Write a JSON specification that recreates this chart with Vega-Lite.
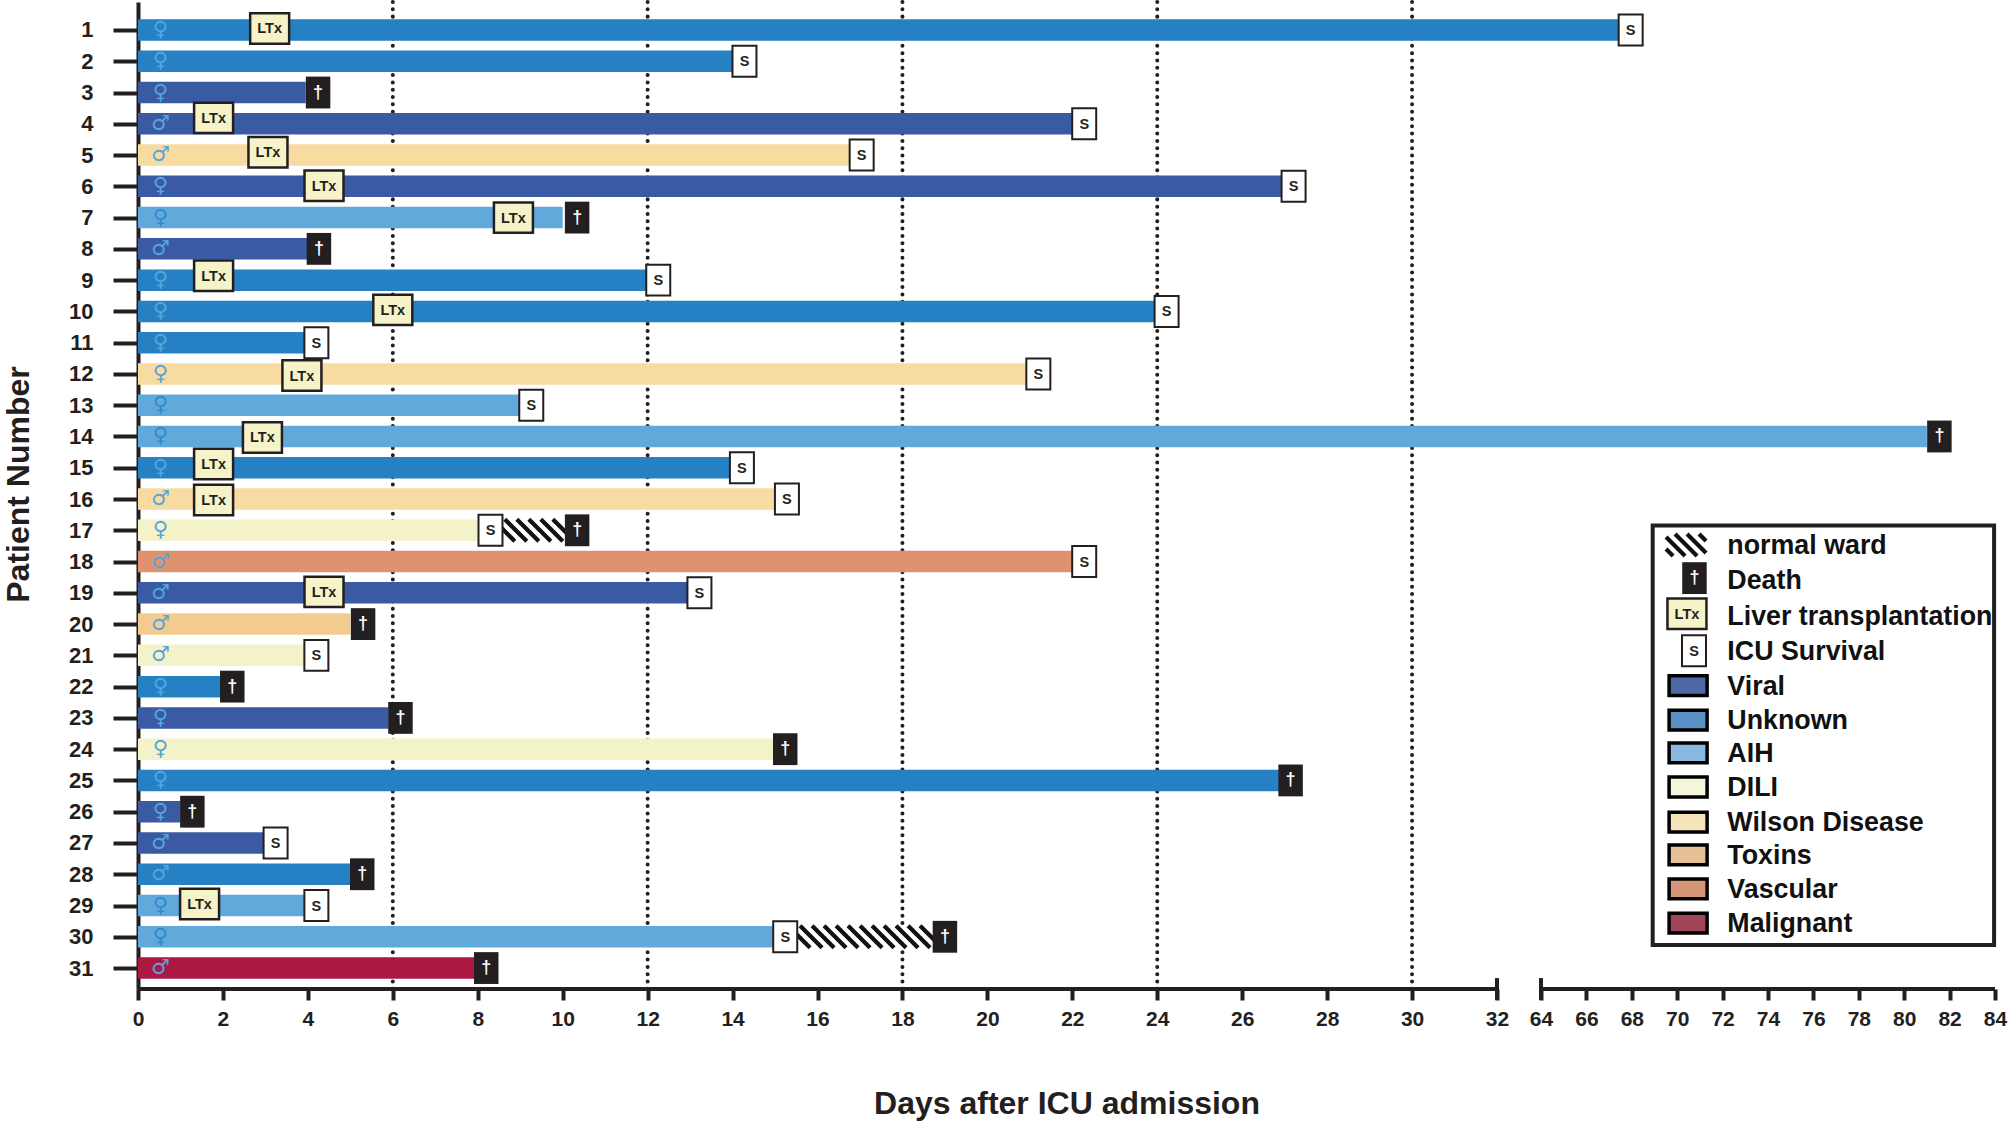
{
  "$schema": "https://vega.github.io/schema/vega-lite/v6.json",
  "width": 1857,
  "height": 987,
  "autosize": {"type": "none"},
  "padding": {"left": 138, "top": 2, "right": 13, "bottom": 138},
  "background": "white",
  "config": {
    "view": {"stroke": null},
    "font": "Liberation Sans",
    "axis": {
      "grid": false,
      "domainColor": "#231f20",
      "domainWidth": 4,
      "tickColor": "#231f20",
      "tickWidth": 4,
      "labelColor": "#231f20",
      "labelFont": "Liberation Sans",
      "labelFontWeight": "bold",
      "titleColor": "#231f20",
      "titleFont": "Liberation Sans",
      "titleFontWeight": "bold",
      "zindex": 1
    }
  },
  "datasets": {
    "patients": [
      {"patient": 1, "start": 0, "end": 67.5, "etiology": "Unknown", "sex": "♀", "sexDay": 0.53},
      {"patient": 2, "start": 0, "end": 14, "etiology": "Unknown", "sex": "♀", "sexDay": 0.53},
      {"patient": 3, "start": 0, "end": 3.95, "etiology": "Viral", "sex": "♀", "sexDay": 0.53},
      {"patient": 4, "start": 0, "end": 22, "etiology": "Viral", "sex": "♂", "sexDay": 0.53},
      {"patient": 5, "start": 0, "end": 16.75, "etiology": "Wilson Disease", "sex": "♂", "sexDay": 0.53},
      {"patient": 6, "start": 0, "end": 26.95, "etiology": "Viral", "sex": "♀", "sexDay": 0.53},
      {"patient": 7, "start": 0, "end": 10, "etiology": "AIH", "sex": "♀", "sexDay": 0.53},
      {"patient": 8, "start": 0, "end": 4, "etiology": "Viral", "sex": "♂", "sexDay": 0.53},
      {"patient": 9, "start": 0, "end": 12, "etiology": "Unknown", "sex": "♀", "sexDay": 0.53},
      {"patient": 10, "start": 0, "end": 24, "etiology": "Unknown", "sex": "♀", "sexDay": 0.53},
      {"patient": 11, "start": 0, "end": 4, "etiology": "Unknown", "sex": "♀", "sexDay": 0.53},
      {"patient": 12, "start": 0, "end": 20.97, "etiology": "Wilson Disease", "sex": "♀", "sexDay": 0.53},
      {"patient": 13, "start": 0, "end": 9, "etiology": "AIH", "sex": "♀", "sexDay": 0.53},
      {"patient": 14, "start": 0, "end": 81, "etiology": "AIH", "sex": "♀", "sexDay": 0.53},
      {"patient": 15, "start": 0, "end": 14, "etiology": "Unknown", "sex": "♀", "sexDay": 0.53},
      {"patient": 16, "start": 0, "end": 15, "etiology": "Wilson Disease", "sex": "♂", "sexDay": 0.53},
      {"patient": 17, "start": 0, "end": 8, "etiology": "DILI", "sex": "♀", "sexDay": 0.53},
      {"patient": 18, "start": 0, "end": 22, "etiology": "Vascular", "sex": "♂", "sexDay": 0.53},
      {"patient": 19, "start": 0, "end": 13, "etiology": "Viral", "sex": "♂", "sexDay": 0.53},
      {"patient": 20, "start": 0, "end": 5, "etiology": "Toxins", "sex": "♂", "sexDay": 0.53},
      {"patient": 21, "start": 0, "end": 4, "etiology": "DILI", "sex": "♂", "sexDay": 0.53},
      {"patient": 22, "start": 0, "end": 2, "etiology": "Unknown", "sex": "♀", "sexDay": 0.53},
      {"patient": 23, "start": 0, "end": 5.9, "etiology": "Viral", "sex": "♀", "sexDay": 0.53},
      {"patient": 24, "start": 0, "end": 15, "etiology": "DILI", "sex": "♀", "sexDay": 0.53},
      {"patient": 25, "start": 0, "end": 26.9, "etiology": "Unknown", "sex": "♀", "sexDay": 0.53},
      {"patient": 26, "start": 0, "end": 1, "etiology": "Viral", "sex": "♀", "sexDay": 0.53},
      {"patient": 27, "start": 0, "end": 3, "etiology": "Viral", "sex": "♂", "sexDay": 0.53},
      {"patient": 28, "start": 0, "end": 5, "etiology": "Unknown", "sex": "♂", "sexDay": 0.53},
      {"patient": 29, "start": 0, "end": 4, "etiology": "AIH", "sex": "♀", "sexDay": 0.53},
      {"patient": 30, "start": 0, "end": 15, "etiology": "AIH", "sex": "♀", "sexDay": 0.53},
      {"patient": 31, "start": 0, "end": 8, "etiology": "Malignant", "sex": "♂", "sexDay": 0.53}
    ],
    "events": [
      {"type": "LTx", "text": "LTx", "day": 3.1, "row": 0.95},
      {"type": "LTx", "text": "LTx", "day": 1.78, "row": 3.81},
      {"type": "LTx", "text": "LTx", "day": 3.06, "row": 4.91},
      {"type": "LTx", "text": "LTx", "day": 4.38, "row": 5.98},
      {"type": "LTx", "text": "LTx", "day": 8.84, "row": 7},
      {"type": "LTx", "text": "LTx", "day": 1.78, "row": 8.86},
      {"type": "LTx", "text": "LTx", "day": 6, "row": 9.95},
      {"type": "LTx", "text": "LTx", "day": 3.86, "row": 12.05},
      {"type": "LTx", "text": "LTx", "day": 2.93, "row": 14.03},
      {"type": "LTx", "text": "LTx", "day": 1.78, "row": 14.88},
      {"type": "LTx", "text": "LTx", "day": 1.78, "row": 16.03},
      {"type": "LTx", "text": "LTx", "day": 4.38, "row": 18.97},
      {"type": "LTx", "text": "LTx", "day": 1.45, "row": 28.95},
      {"type": "S", "text": "S", "day": 67.95, "row": 1},
      {"type": "S", "text": "S", "day": 14.28, "row": 2},
      {"type": "S", "text": "S", "day": 22.28, "row": 4},
      {"type": "S", "text": "S", "day": 17.04, "row": 5},
      {"type": "S", "text": "S", "day": 27.21, "row": 6},
      {"type": "S", "text": "S", "day": 12.25, "row": 9},
      {"type": "S", "text": "S", "day": 24.22, "row": 10},
      {"type": "S", "text": "S", "day": 4.2, "row": 11},
      {"type": "S", "text": "S", "day": 21.2, "row": 12},
      {"type": "S", "text": "S", "day": 9.26, "row": 13},
      {"type": "S", "text": "S", "day": 14.22, "row": 15},
      {"type": "S", "text": "S", "day": 15.28, "row": 16},
      {"type": "S", "text": "S", "day": 8.3, "row": 17},
      {"type": "S", "text": "S", "day": 22.28, "row": 18},
      {"type": "S", "text": "S", "day": 13.22, "row": 19},
      {"type": "S", "text": "S", "day": 4.2, "row": 21},
      {"type": "S", "text": "S", "day": 3.24, "row": 27},
      {"type": "S", "text": "S", "day": 4.2, "row": 29},
      {"type": "S", "text": "S", "day": 15.24, "row": 30},
      {"type": "Death", "text": "†", "day": 4.24, "row": 3},
      {"type": "Death", "text": "†", "day": 10.34, "row": 7},
      {"type": "Death", "text": "†", "day": 4.26, "row": 8},
      {"type": "Death", "text": "†", "day": 81.55, "row": 14},
      {"type": "Death", "text": "†", "day": 10.34, "row": 17},
      {"type": "Death", "text": "†", "day": 5.3, "row": 20},
      {"type": "Death", "text": "†", "day": 2.22, "row": 22},
      {"type": "Death", "text": "†", "day": 6.18, "row": 23},
      {"type": "Death", "text": "†", "day": 15.24, "row": 24},
      {"type": "Death", "text": "†", "day": 27.14, "row": 25},
      {"type": "Death", "text": "†", "day": 1.28, "row": 26},
      {"type": "Death", "text": "†", "day": 5.28, "row": 28},
      {"type": "Death", "text": "†", "day": 19, "row": 30},
      {"type": "Death", "text": "†", "day": 8.2, "row": 31},
      {"type": "Death", "text": "†", "day": 70.76, "row": 18.53},
      {"type": "LTx", "text": "LTx", "day": 70.43, "row": 19.67},
      {"type": "S", "text": "S", "day": 70.74, "row": 20.85}
    ],
    "wards": [
      {"kind": "short", "day": 9.32, "start": 8.6, "end": 10.05, "row": 17},
      {"kind": "long", "day": 17.12, "start": 15.5, "end": 18.75, "row": 30},
      {"kind": "key", "day": 70.39, "start": 69.5, "end": 71.3, "row": 17.47}
    ],
    "legendRows": [
      {"label": "normal ward", "row": 17.47, "day": 72.21},
      {"label": "Death", "row": 18.59, "day": 72.21},
      {"label": "Liver transplantation", "row": 19.74, "day": 72.21},
      {"label": "ICU Survival", "row": 20.85, "day": 72.21},
      {"label": "Viral", "row": 21.97, "day": 72.21, "swatch": "Viral", "keyDay": 70.48},
      {"label": "Unknown", "row": 23.07, "day": 72.21, "swatch": "Unknown", "keyDay": 70.48},
      {"label": "AIH", "row": 24.12, "day": 72.21, "swatch": "AIH", "keyDay": 70.48},
      {"label": "DILI", "row": 25.21, "day": 72.21, "swatch": "DILI", "keyDay": 70.48},
      {"label": "Wilson Disease", "row": 26.33, "day": 72.21, "swatch": "Wilson Disease", "keyDay": 70.48},
      {"label": "Toxins", "row": 27.38, "day": 72.21, "swatch": "Toxins", "keyDay": 70.48},
      {"label": "Vascular", "row": 28.47, "day": 72.21, "swatch": "Vascular", "keyDay": 70.48},
      {"label": "Malignant", "row": 29.56, "day": 72.21, "swatch": "Malignant", "keyDay": 70.48}
    ]
  },
  "encoding": {
    "y": {
      "field": "row",
      "type": "quantitative",
      "title": "Patient Number",
      "scale": {"domain": [0.105, 31.67], "reverse": true, "nice": false, "zero": false, "padding": 0},
      "axis": {
        "values": [1, 2, 3, 4, 5, 6, 7, 8, 9, 10, 11, 12, 13, 14, 15, 16, 17, 18, 19, 20, 21, 22, 23, 24, 25, 26, 27, 28, 29, 30, 31],
        "format": "d",
        "tickSize": 25,
        "labelFontSize": 22,
        "labelPadding": 20,
        "titleFontSize": 32,
        "titlePadding": 33,
        "titleY": 482
      }
    },
    "x": {
      "field": "day",
      "type": "quantitative",
      "title": "Days after ICU admission",
      "scale": {"domain": [0, 32, 64, 84], "range": [0, 1359, 1403, 1857], "nice": false, "zero": false, "padding": 0},
      "axis": {
        "values": [0, 2, 4, 6, 8, 10, 12, 14, 16, 18, 20, 22, 24, 26, 28, 30, 32, 64, 66, 68, 70, 72, 74, 76, 78, 80, 82, 84],
        "domain": false,
        "tickSize": 11,
        "labelFontSize": 21,
        "labelPadding": 8,
        "labelFlush": false,
        "labelOverlap": false,
        "titleFontSize": 32,
        "titlePadding": 59
      }
    }
  },
  "layer": [
    {
      "data": {"values": [{"day": 6}, {"day": 12}, {"day": 18}, {"day": 24}, {"day": 30}]},
      "mark": {"type": "rule", "color": "#231f20", "strokeWidth": 4, "strokeDash": [0.01, 7.3], "strokeCap": "round"},
      "encoding": {"y": {"value": 0}, "y2": {"value": 987}}
    },
    {
      "data": {"name": "patients"},
      "mark": {"type": "bar", "size": 21.5},
      "encoding": {
        "y": {"field": "patient", "type": "quantitative"},
        "x": {"field": "start", "type": "quantitative"},
        "x2": {"field": "end"},
        "color": {
          "field": "etiology",
          "type": "nominal",
          "legend": null,
          "scale": {
            "domain": ["Viral", "Unknown", "AIH", "DILI", "Wilson Disease", "Toxins", "Vascular", "Malignant"],
            "range": ["#3a5aa3", "#2581c4", "#62a9db", "#f4f2c8", "#f8dba0", "#f4cb8e", "#de9270", "#ab1942"]
          }
        }
      }
    },
    {
      "data": {"name": "patients"},
      "transform": [{"filter": "datum.etiology != 'AIH'"}],
      "mark": {"type": "text", "font": "DejaVu Sans", "fontSize": 21, "color": "#55a5dd", "baseline": "middle"},
      "encoding": {
        "y": {"field": "patient", "type": "quantitative"},
        "x": {"field": "sexDay", "type": "quantitative"},
        "text": {"field": "sex"}
      }
    },
    {
      "data": {"name": "patients"},
      "transform": [{"filter": "datum.etiology == 'AIH'"}],
      "mark": {"type": "text", "font": "DejaVu Sans", "fontSize": 21, "color": "#2f8bcb", "baseline": "middle"},
      "encoding": {
        "y": {"field": "patient", "type": "quantitative"},
        "x": {"field": "sexDay", "type": "quantitative"},
        "text": {"field": "sex"}
      }
    },
    {
      "data": {"values": [{"day": 0, "end": 32, "row": 31.67}, {"day": 64, "end": 84, "row": 31.67}]},
      "mark": {"type": "rule", "color": "#231f20", "strokeWidth": 4},
      "encoding": {"x2": {"field": "end"}}
    },
    {
      "data": {"values": [{"day": 32, "row": 31.32, "rowEnd": 32.02}, {"day": 64, "row": 31.32, "rowEnd": 32.02}]},
      "mark": {"type": "rule", "color": "#231f20", "strokeWidth": 4},
      "encoding": {"y2": {"field": "rowEnd"}}
    },
    {
      "data": {"values": [{"day": 68.92, "end": 83.96, "row": 16.85, "rowEnd": 30.26}]},
      "mark": {"type": "rect", "fill": "white", "stroke": "#231f20", "strokeWidth": 4},
      "encoding": {"x2": {"field": "end"}, "y2": {"field": "rowEnd"}}
    },
    {
      "data": {"name": "wards"},
      "mark": {"type": "bar", "size": 22, "fill": "white"},
      "encoding": {
        "x": {"field": "start", "type": "quantitative"},
        "x2": {"field": "end"}
      }
    },
    {
      "data": {"name": "wards"},
      "mark": {"type": "point", "filled": false, "size": 10000, "stroke": "#111111", "strokeWidth": 4.2, "opacity": 1},
      "encoding": {
        "shape": {
          "field": "kind",
          "type": "nominal",
          "legend": null,
          "scale": {
            "domain": ["short", "long", "key"],
            "range": [
              "M-0.82,-0.22L-0.38,0.22M-0.58,-0.22L-0.14,0.22M-0.34,-0.22L0.1,0.22M-0.1,-0.22L0.34,0.22M0.14,-0.22L0.58,0.22M0.38,-0.22L0.82,0.22",
              "M-1.54,-0.22L-1.1,0.22M-1.3,-0.22L-0.86,0.22M-1.06,-0.22L-0.62,0.22M-0.82,-0.22L-0.38,0.22M-0.58,-0.22L-0.14,0.22M-0.34,-0.22L0.1,0.22M-0.1,-0.22L0.34,0.22M0.14,-0.22L0.58,0.22M0.38,-0.22L0.82,0.22M0.62,-0.22L1.06,0.22M0.86,-0.22L1.3,0.22M1.1,-0.22L1.54,0.22",
              "M-0.4,0.08L-0.26,0.22M-0.4,-0.16L-0.02,0.22M-0.22,-0.22L0.22,0.22M0.02,-0.22L0.4,0.16M0.26,-0.22L0.4,-0.08"
            ]
          }
        }
      }
    },
    {
      "data": {"name": "events"},
      "transform": [{"filter": "datum.type == 'LTx'"}],
      "mark": {"type": "point", "filled": true, "shape": "M-1,-0.78H1V0.78H-1Z", "size": 1521, "fill": "#f5f3c7", "stroke": "#231f20", "strokeWidth": 2.5, "opacity": 1}
    },
    {
      "data": {"name": "events"},
      "transform": [{"filter": "datum.type == 'S'"}],
      "mark": {"type": "point", "filled": true, "shape": "M-1,-1.29H1V1.29H-1Z", "size": 576, "fill": "white", "stroke": "#231f20", "strokeWidth": 2, "opacity": 1}
    },
    {
      "data": {"name": "events"},
      "transform": [{"filter": "datum.type == 'Death'"}],
      "mark": {"type": "point", "filled": true, "shape": "M-1,-1.3H1V1.3H-1Z", "size": 600, "fill": "#231f20", "opacity": 1}
    },
    {
      "data": {"name": "events"},
      "transform": [{"filter": "datum.type != 'Death'"}],
      "mark": {"type": "text", "fontSize": 14.5, "fontWeight": "bold", "color": "#231f20", "baseline": "middle", "dy": 1},
      "encoding": {"text": {"field": "text"}}
    },
    {
      "data": {"name": "events"},
      "transform": [{"filter": "datum.type == 'Death'"}],
      "mark": {"type": "text", "fontSize": 18, "fontWeight": "bold", "color": "white", "baseline": "middle"},
      "encoding": {"text": {"field": "text"}}
    },
    {
      "data": {"name": "legendRows"},
      "transform": [{"filter": "datum.swatch != null"}],
      "mark": {"type": "point", "filled": true, "shape": "M-1,-0.52H1V0.52H-1Z", "size": 1444, "stroke": "black", "strokeWidth": 3.5, "opacity": 1},
      "encoding": {
        "x": {"field": "keyDay", "type": "quantitative"},
        "fill": {
          "field": "swatch",
          "type": "nominal",
          "legend": null,
          "scale": {
            "domain": ["Viral", "Unknown", "AIH", "DILI", "Wilson Disease", "Toxins", "Vascular", "Malignant"],
            "range": ["#4d67a7", "#5a90c5", "#8ab8df", "#f5f4dd", "#f4e4b8", "#e6c195", "#d49677", "#a14657"]
          }
        }
      }
    },
    {
      "data": {"name": "legendRows"},
      "mark": {"type": "text", "fontSize": 26.8, "fontWeight": "bold", "color": "#111111", "align": "left", "baseline": "middle", "dy": 1},
      "encoding": {"text": {"field": "label"}}
    }
  ]
}
